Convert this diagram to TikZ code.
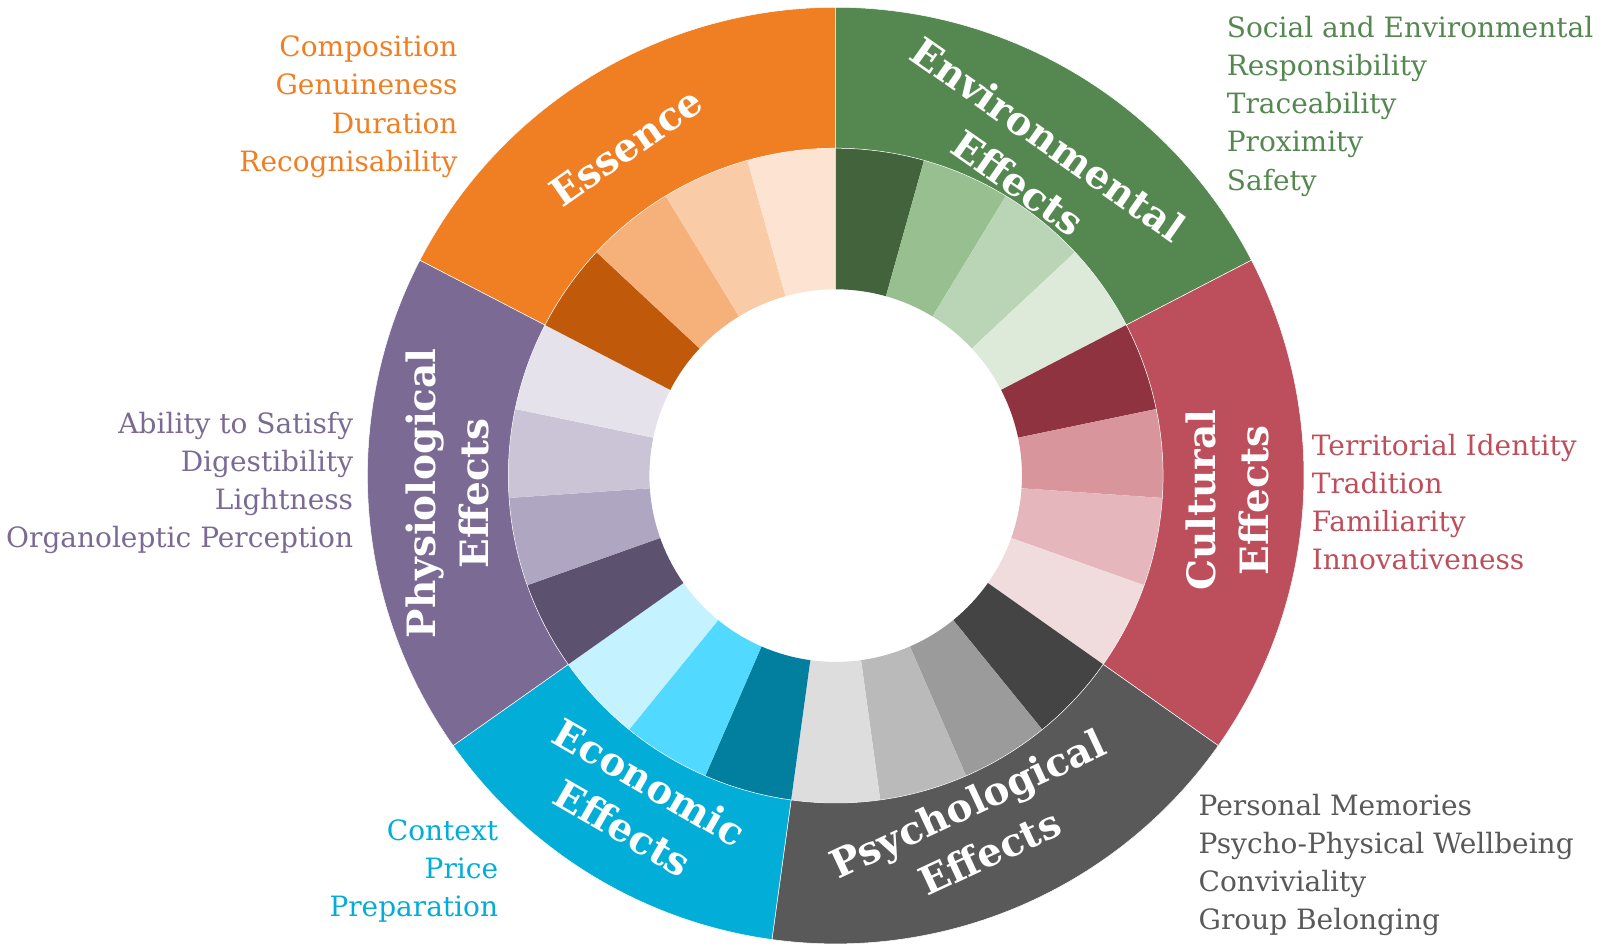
\documentclass[tikz,border=0pt]{standalone}
\usepackage{fontspec}
\setmainfont{DejaVu Serif}
\definecolor{fgreen}{RGB}{85,136,80}
\definecolor{fgreen1}{RGB}{66,99,59}
\definecolor{fgreen2}{RGB}{151,191,143}
\definecolor{fgreen3}{RGB}{186,213,181}
\definecolor{fgreen4}{RGB}{221,233,217}
\definecolor{fred}{RGB}{189,79,92}
\definecolor{fred1}{RGB}{143,51,64}
\definecolor{fred2}{RGB}{216,149,156}
\definecolor{fred3}{RGB}{229,183,189}
\definecolor{fred4}{RGB}{240,219,221}
\definecolor{fgrey}{RGB}{89,89,89}
\definecolor{fgrey1}{RGB}{68,68,68}
\definecolor{fgrey2}{RGB}{155,155,155}
\definecolor{fgrey3}{RGB}{186,186,186}
\definecolor{fgrey4}{RGB}{221,221,221}
\definecolor{fcyan}{RGB}{2,173,216}
\definecolor{fcyan1}{RGB}{2,127,159}
\definecolor{fcyan2}{RGB}{82,217,255}
\definecolor{fcyan3}{RGB}{197,242,255}
\definecolor{fpurple}{RGB}{123,107,148}
\definecolor{fpurple1}{RGB}{93,81,112}
\definecolor{fpurple2}{RGB}{175,166,193}
\definecolor{fpurple3}{RGB}{203,196,214}
\definecolor{fpurple4}{RGB}{229,226,235}
\definecolor{forange}{RGB}{240,126,34}
\definecolor{forange1}{RGB}{193,89,10}
\definecolor{forange2}{RGB}{246,176,122}
\definecolor{forange3}{RGB}{249,203,166}
\definecolor{forange4}{RGB}{253,227,210}
\newcommand{\ringin}{186.3}
\newcommand{\ringmid}{327.4}
\newcommand{\ringout}{468.3}
\newcommand{\catfont}{\fontsize{39}{53}\selectfont\bfseries}
\newcommand{\listfont}{\fontsize{28}{38.2}\selectfont}
\newcommand{\ringwedge}[5]{%
  \fill[#5] (#1:#3) arc[start angle=#1,end angle=#2,radius=#3]
    -- (#2:#4) arc[start angle=#2,end angle=#1,radius=#4] -- cycle;
}

\begin{document}
\begin{tikzpicture}[x=1pt,y=1pt,
    catlabel/.style={text=white,font=\catfont,align=center,inner sep=0pt},
    itemlist/.style={font=\listfont,inner sep=0pt}]
  \useasboundingbox (-835.7,-470.4) rectangle (768.3,475.6);
  % inner ring, one wedge per factor
  \foreach \k/\c in {0/fgreen1,1/fgreen2,2/fgreen3,3/fgreen4,
      4/fred1,5/fred2,6/fred3,7/fred4,8/fgrey1,9/fgrey2,10/fgrey3,11/fgrey4,
      12/fcyan1,13/fcyan2,14/fcyan3,15/fpurple1,16/fpurple2,17/fpurple3,18/fpurple4,
      19/forange1,20/forange2,21/forange3,22/forange4}{
    \pgfmathsetmacro\a{90-\k*360/23}
    \pgfmathsetmacro\b{90-(\k+1)*360/23}
    \ringwedge{\a}{\b}{\ringin}{\ringmid}{\c}
  }
  % outer ring, one wedge per group
  \foreach \s/\e/\c in {0/4/fgreen,4/8/fred,8/12/fgrey,12/15/fcyan,15/19/fpurple,19/23/forange}{
    \pgfmathsetmacro\a{90-\s*360/23}
    \pgfmathsetmacro\b{90-\e*360/23}
    \ringwedge{\a}{\b}{\ringmid}{\ringout}{\c,draw=white,line width=.5pt}
  }
  \node[catlabel,rotate=-35] (envlabel) at (57.9:371.5) {Environmental\\Effects};
  \node[catlabel,rotate=90] (cultlabel) at (-3.6:393) {Cultural\\Effects};
  \node[catlabel,rotate=25] (psylabel) at (-67.9:380) {Psychological\\Effects};
  \node[catlabel,rotate=-30] (ecolabel) at (-121.2:385) {Economic\\Effects};
  \node[catlabel,rotate=90] (physlabel) at (182.6:389) {Physiological\\Effects};
  \node[catlabel,rotate=35] (esslabel) at (122.5:389.8) {Essence};
  % item lists, anchored on the baseline of their last line
  \node[itemlist,text=fgreen,align=left,anchor=base west] (envlist) at (391,285.5)
    {Social and Environmental\\Responsibility\\Traceability\\Proximity\\Safety};
  \node[itemlist,text=fred,align=left,anchor=base west] (cultlist) at (476,-94)
    {Territorial Identity\\Tradition\\Familiarity\\Innovativeness};
  \node[itemlist,text=fgrey,align=left,anchor=base west] (psylist) at (362.8,-454)
    {Personal Memories\\Psycho-Physical Wellbeing\\Conviviality\\Group Belonging};
  \node[itemlist,text=fcyan,align=right,anchor=base east] (ecolist) at (-337.4,-440.8)
    {Context\\Price\\Preparation};
  \node[itemlist,text=fpurple,align=right,anchor=base east] (physlist) at (-482.4,-72.3)
    {Ability to Satisfy\\Digestibility\\Lightness\\Organoleptic Perception};
  \node[itemlist,text=forange,align=right,anchor=base east] (esslist) at (-378,304.3)
    {Composition\\Genuineness\\Duration\\Recognisability};
\end{tikzpicture}
\end{document}
